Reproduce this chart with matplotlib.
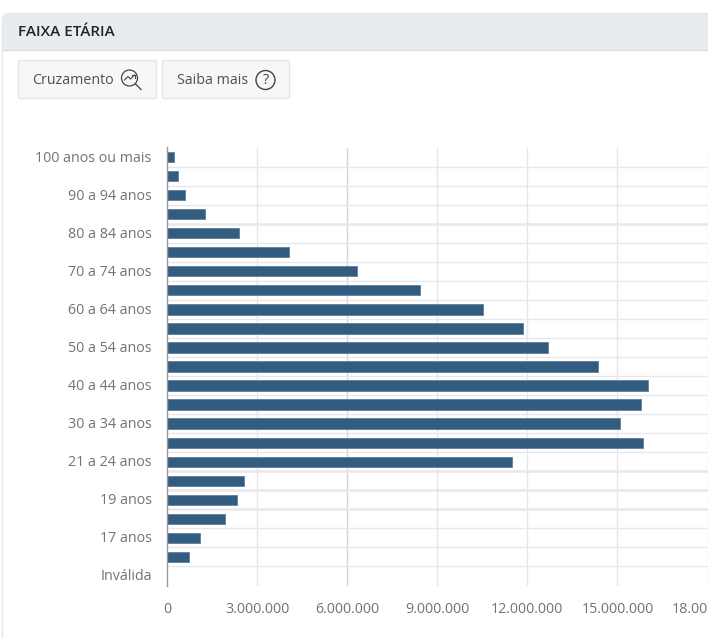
import matplotlib
matplotlib.use('Agg')
import matplotlib.pyplot as plt
from matplotlib.patches import FancyBboxPatch, Rectangle, Circle
from matplotlib.transforms import ScaledTranslation
import numpy as np

plt.rcParams['font.family'] = ['Open Sans', 'DejaVu Sans']

categories = ['100 anos ou mais', '95 a 99 anos', '90 a 94 anos', '85 a 89 anos',
              '80 a 84 anos', '75 a 79 anos', '70 a 74 anos', '65 a 69 anos',
              '60 a 64 anos', '55 a 59 anos', '50 a 54 anos', '45 a 49 anos',
              '40 a 44 anos', '35 a 39 anos', '30 a 34 anos', '25 a 29 anos',
              '21 a 24 anos', '20 anos', '19 anos', '18 anos', '17 anos',
              '16 anos', 'Inválida']
eleitores = [220000, 360000, 600000, 1280000, 2400000, 4070000, 6330000, 8430000,
             10530000, 11850000, 12680000, 14370000, 16030000, 15780000, 15100000,
             15850000, 11480000, 2550000, 2320000, 1920000, 1100000, 720000, 0]
xticks = [0, 3000000, 6000000, 9000000, 12000000, 15000000, 18000000]

W, H = 708, 638
BAR = '#335C81'
GRID = '#E6E6E9'
TEXT = '#737373'

fig = plt.figure(figsize=(W / 100, H / 100), dpi=100)

# page chrome drawn in pixel coordinates
bg = fig.add_axes((0, 0, 1, 1))
bg.set_xlim(0, W)
bg.set_ylim(H, 0)
bg.axis('off')
bg.add_patch(FancyBboxPatch((2.5, 13.5), 760, 800, boxstyle='round,pad=0,rounding_size=7',
                            fc='white', ec='#E4E7EA', lw=1))
bg.add_patch(FancyBboxPatch((3, 14), 760, 60, boxstyle='round,pad=0,rounding_size=7',
                            fc='#E8ECEF', ec='none'))
bg.add_patch(Rectangle((3, 49.5), 760, 40, fc='white', ec='none'))
bg.plot([3, W], [49.5, 49.5], color='#D8DDE1', lw=1)
bg.text(18, 31.5, 'FAIXA ETÁRIA', fontsize=11, fontweight='semibold', color='#212529',
        va='center', ha='left')

for x0, x1 in [(18.5, 156.5), (162.5, 289.5)]:
    bg.add_patch(FancyBboxPatch((x0, 60.5), x1 - x0, 38, boxstyle='round,pad=0,rounding_size=2',
                                fc='#F7F7F7', ec='#E6E6E6', lw=1))
bg.text(32, 80.5, 'Cruzamento', fontsize=10.3, color='#505050', va='center', ha='left')
bg.text(177, 80.5, 'Saiba mais', fontsize=10.3, color='#505050', va='center', ha='left')

# magnifier with trend line
bg.add_patch(Circle((129.5, 78), 8, fc='none', ec='#444444', lw=0.9))
bg.plot([135.5, 141], [84, 89.5], color='#444444', lw=0.9)
bg.plot([124.5, 128, 130.5, 134.5], [80, 76.5, 79, 75], color='#444444', lw=0.8)
bg.plot([131.5, 134.5, 134.5], [75, 75, 78], color='#444444', lw=0.8)
# help circle
bg.add_patch(Circle((265.5, 80), 9.5, fc='none', ec='#444444', lw=1))
bg.text(265.5, 80, '?', fontsize=10.5, color='#444444', va='center', ha='center')

# chart
ax = fig.add_axes((167 / W, 1 - 585.5 / H, 540.5 / W, 438 / H))
ax.patch.set_alpha(0)
y = np.arange(len(categories))
ax.barh(y, eleitores, height=0.54, color=BAR, edgecolor='#5F7F9C', linewidth=0.6, zorder=2)
ax.set_xlim(0, 18000000)
ax.set_ylim(len(categories) - 0.5, -0.5)

ax.set_xticks(xticks)
ax.set_xticklabels(['0'] + [f'{v:,}'.replace(',', '.') for v in xticks[1:]])
ax.set_yticks(y[::2])
ax.set_yticklabels(categories[::2], va='center_baseline')
ax.tick_params(axis='both', length=0, labelsize=10.3, labelcolor=TEXT)
ax.tick_params(axis='x', pad=12)
ax.tick_params(axis='y', pad=11)
# nudge the y labels up one pixel
nudge = ScaledTranslation(0, 1 / 100, fig.dpi_scale_trans)
for lab in ax.get_yticklabels():
    lab.set_transform(lab.get_transform() + nudge)

for v in xticks[1:]:
    ax.axvline(v, color='#D4D4DC' if v == 6000000 else GRID, lw=1, zorder=1)
# band separators, a few of them render heavier in the original
heavy = [3, 16, 17, 18]
for i in range(len(categories) - 1):
    ax.axhline(i + 0.5, color='#E8E8EC', lw=1.8 if i in heavy else 1, zorder=1)

for side in ['top', 'right', 'bottom']:
    ax.spines[side].set_visible(False)
ax.spines['left'].set_color('#999999')
ax.spines['left'].set_linewidth(1)
ax.spines['left'].set_zorder(5)

fig.savefig('out.png', dpi=100)
